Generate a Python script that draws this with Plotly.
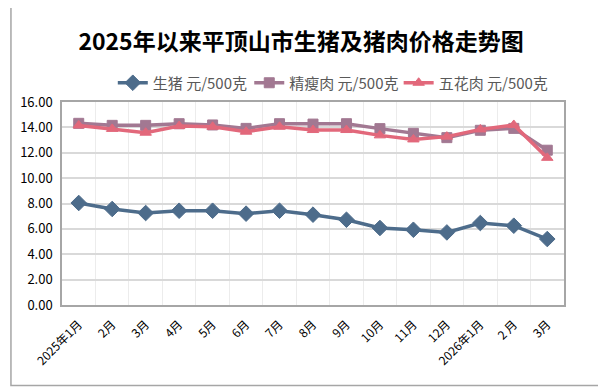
import plotly.graph_objects as go

months = ["2025年1月", "2月", "3月", "4月", "5月", "6月", "7月", "8月", "9月",
          "10月", "11月", "12月", "2026年1月", "2 月", "3月"]
live_pig = [8.04, 7.57, 7.25, 7.43, 7.43, 7.2, 7.43, 7.12, 6.72, 6.07, 5.93, 5.72, 6.46, 6.25, 5.2]
lean_pork = [14.32, 14.16, 14.16, 14.29, 14.19, 13.92, 14.29, 14.26, 14.29, 13.9, 13.53, 13.19, 13.77, 13.92, 12.2]
belly_pork = [14.15, 13.88, 13.58, 14.1, 14.05, 13.66, 14.05, 13.79, 13.79, 13.37, 13.05, 13.27, 13.84, 14.19, 11.6]
y_ticks = [0, 2, 4, 6, 8, 10, 12, 14, 16]
series_names = ["生猪 元/500克", "精瘦肉 元/500克", "五花肉 元/500克"]

font_family = "Noto Sans CJK SC, Microsoft YaHei, sans-serif"
x_idx = list(range(len(months)))

# page is offset by the browser's 8px body margin; figure sized to compensate
W, H = 598, 380
L, R, T, B = 52, 42, 94, 83
pw, ph = W - L - R, H - T - B

fig = go.Figure()
specs = [
    (live_pig, series_names[0], "#4d6c8b", "diamond", 12, "legend", 111),
    (lean_pork, series_names[1], "#a27892", "square", 10, "legend2", 248),
    (belly_pork, series_names[2], "#e2687b", "triangle-up", 10, "legend3", 398),
]
legend_cfg = {}
for vals, name, color, sym, size, lg, px in specs:
    fig.add_trace(go.Scatter(
        x=x_idx, y=vals, name=name, mode="lines+markers", legend=lg,
        line=dict(color=color, width=3.5),
        marker=dict(symbol=sym, size=size, color=color,
                    line=dict(width=1, color=color)),
    ))
    legend_cfg[lg] = dict(
        orientation="h", x=(px - 8 - L) / pw, xanchor="left",
        y=1 + (T - 75) / ph, yanchor="middle",
        font=dict(size=15, color="#595959", family=font_family),
        itemwidth=30, bgcolor="rgba(0,0,0,0)")

fig.update_layout(
    width=W, height=H,
    margin=dict(l=L, r=R, t=T, b=B),
    paper_bgcolor="white", plot_bgcolor="white",
    font=dict(family=font_family, color="#000000"),
    title=dict(text="<b>2025年以来平顶山市生猪及猪肉价格走势图</b>",
               x=0.49, xanchor="center", y=1 - 34 / H, yanchor="middle",
               font=dict(size=23, color="#000000", family=font_family)),
    showlegend=True,
    shapes=[dict(type="rect", xref="paper", yref="paper",
                 x0=-(L - 0.75) / pw, x1=1 + (R - 1.5) / pw,
                 y0=-(B - 2.5) / ph, y1=1 + (T + 5) / ph,
                 line=dict(color="#a6a6a6", width=1.5), layer="below")],
    **legend_cfg,
)

fig.update_xaxes(
    tickvals=x_idx, ticktext=months, tickangle=-45,
    showgrid=False,
    minor=dict(tick0=0.5, dtick=1, showgrid=True, gridcolor="#ececec", gridwidth=1, ticks=""),
    showline=True, linecolor="#a6a6a6", linewidth=1.5, mirror=True,
    ticks="", zeroline=False, ticklabelstandoff=6,
    tickfont=dict(size=12, color="#000000", family=font_family),
    range=[-0.5, len(months) - 0.5],
)
fig.update_yaxes(
    range=[0, 16], tickvals=y_ticks, ticktext=[f"{v:.2f}" for v in y_ticks],
    showgrid=True, gridcolor="#d9d9d9", gridwidth=2,
    showline=True, linecolor="#a6a6a6", linewidth=1.5, mirror=True,
    ticks="", zeroline=False, ticklabelstandoff=5,
    tickfont=dict(size=13, color="#000000", family=font_family),
)

fig.write_html("out.html")
